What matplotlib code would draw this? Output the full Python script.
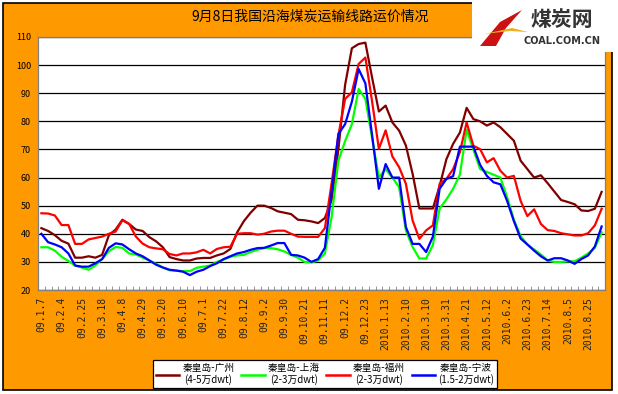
import numpy as np
import matplotlib.pyplot as plt
from matplotlib.patches import Rectangle, Polygon
from matplotlib.lines import Line2D

plt.rcParams['font.family'] = ['Noto Sans CJK SC', 'DejaVu Sans']

# 日期标签 (每三周一个)
dates = ['09.1.7', '09.2.4', '09.2.25', '09.3.18', '09.4.8', '09.4.29', '09.5.20',
         '09.6.10', '09.7.1', '09.7.22', '09.8.12', '09.9.2', '09.9.30', '09.10.21',
         '09.11.11', '09.12.2', '09.12.23', '2010.1.13', '2010.2.10', '2010.3.10',
         '2010.3.31', '2010.4.21', '2010.5.12', '2010.6.2', '2010.6.23', '2010.7.14',
         '2010.8.5', '2010.8.25']

# 秦皇岛-广州 (4-5万dwt)
guangzhou = [42, 41, 39.5, 37.5, 36.5, 31.5, 31.5, 32, 31.5, 32.5,
             39.5, 41.5, 45, 43.5, 41.5, 41, 38.8, 37.3, 35.2, 31.7,
             31, 30.5, 30.5, 31.2, 31.4, 31.4, 32.3, 33, 34.6, 40.5,
             44.5, 47.5, 50, 50, 49.2, 48, 47.5, 47, 45, 44.8,
             44.4, 43.8, 45.6, 52, 70, 93, 106, 107.5, 108, 95.5,
             83.5, 85.6, 79.6, 76.7, 71.4, 61.3, 49, 49, 49, 57,
             66.5, 72, 76, 84.8, 80.8, 80, 78.5, 79.6, 77.9, 75.5,
             73.1, 66, 63, 60, 60.8, 58, 55, 52, 51.3, 50.5,
             48.3, 48.1, 48.9, 54.9]

# 秦皇岛-上海 (2-3万dwt)
shanghai = [35.2, 35.2, 34, 31.8, 30.3, 28.7, 28, 27.2, 28.7, 31,
            33.8, 35.3, 35, 33, 32.6, 31.5, 30.5, 29.3, 28, 27,
            26.9, 26.7, 26.7, 27.9, 28.3, 28.7, 30, 30.8, 31.8, 32.3,
            32.5, 33.5, 34.3, 34.9, 34.9, 34.5, 33.7, 32.5, 31.5, 30,
            29.8, 30.5, 33, 46, 66, 73, 79, 91.5, 88, 74,
            60, 63, 60, 56.6, 41.2, 35.3, 31.2, 31.2, 36, 49,
            52.2, 56, 61, 77, 70, 63, 62, 61, 60, 53,
            45, 39.2, 36.2, 34.4, 32.6, 30.5, 30, 30, 30.2, 30.2,
            31.5, 33, 35, 40.5]

# 秦皇岛-福州 (2-3万dwt)
fuzhou = [47.3, 47.2, 46.5, 43.1, 43.1, 36.4, 36.4, 38, 38.5, 39,
          40, 40.8, 44.8, 43.5, 39, 36.5, 35.2, 34.8, 34.5, 32.8,
          32.3, 33, 33, 33.4, 34.3, 33, 34.6, 35.2, 35.4, 40,
          40.2, 40.2, 39.7, 40, 40.8, 41.1, 41.1, 40, 39, 38.9,
          38.9, 38.9, 42, 58, 75, 88, 90.3, 100.4, 102.7, 87,
          70.2, 76.8, 67.5, 63.7, 57.8, 44.7, 38.2, 41.2, 43, 57.8,
          59.5, 63, 69, 79.6, 71.3, 70.1, 65.4, 66.9, 62.4, 60,
          60.6, 51.7, 46.3, 48.7, 43.5, 41.3, 41, 40.2, 39.8, 39.4,
          39.4, 40.2, 43, 48.9]

# 秦皇岛-宁波 (1.5-2万dwt)
ningbo = [40, 37, 36.2, 35.2, 33, 28.7, 28.3, 28.3, 29.5, 31,
          35, 36.6, 36.2, 34.5, 33, 32, 30.5, 29, 28, 27.2,
          26.9, 26.5, 25.3, 26.5, 27.2, 28.5, 29.5, 31, 32, 33,
          33.5, 34.3, 34.9, 35, 35.8, 36.7, 36.7, 32.5, 32.3, 31.5,
          30, 31, 35, 55, 75.5, 79, 87, 98.6, 93.5, 75,
          56, 64.8, 60, 60, 42.4, 36.4, 36.4, 33.5, 39, 56,
          59.5, 60.5, 71, 71, 71, 64.5, 60.6, 58.3, 57.6, 51.7,
          44.5, 38.3, 36.2, 34, 32, 30.5, 31.3, 31.3, 30.5, 29.3,
          31, 32.3, 35.5, 42.6]

names = ['秦皇岛-广州\n(4-5万dwt)', '秦皇岛-上海\n(2-3万dwt)',
         '秦皇岛-福州\n(2-3万dwt)', '秦皇岛-宁波\n(1.5-2万dwt)']
colors = ['#800000', '#00FF00', '#FF0000', '#0000FF']

W, H = 618, 394


def fx(px):
    return px / W


def fy(py):
    return 1 - py / H


fig = plt.figure(figsize=(6.18, 3.94), dpi=100)
fig.patch.set_facecolor('white')

# fond orange avec cadre noir
fig.patches.append(Rectangle((fx(3), fy(390)), fx(612) - fx(3), fy(3) - fy(390),
                             transform=fig.transFigure, facecolor='#FF9900',
                             edgecolor='black', lw=1.2, zorder=-5))

ax = fig.add_axes([fx(38), fy(290), fx(605) - fx(38), fy(37) - fy(290)])
ax.set_zorder(2)
ax.set_facecolor('white')

x = np.arange(len(guangzhou))
for y, c in zip([guangzhou, shanghai, fuzhou, ningbo], colors):
    ax.plot(x, y, color=c, lw=1.6, zorder=3)

ax.set_xlim(-0.5, len(x) - 0.5)
ax.set_ylim(20, 110)
ax.set_yticks(range(20, 111, 10))
ax.grid(axis='y', color='black', lw=0.9, zorder=1)
ax.tick_params(axis='y', length=0, labelsize=6.5, pad=5)

ax.set_xticks(np.arange(0, len(x), 3))
ax.set_xticklabels(dates, rotation=90, family='DejaVu Sans Mono', fontsize=7,
                   color='#222222')
ax.tick_params(axis='x', which='major', length=0, pad=5)
ax.set_xticks(np.arange(-0.5, len(x), 1), minor=True)
ax.tick_params(axis='x', which='minor', direction='in', length=3, color='#888888')
for s in ax.spines.values():
    s.set_color('#808080')
    s.set_linewidth(0.9)

# titre
fig.text(fx(310), fy(17), '9月8日我国沿海煤炭运输线路运价情况', ha='center', va='center',
         fontsize=10)

# légende
handles = [Line2D([0], [0], color=c, lw=1.8) for c in colors]
leg = fig.legend(handles, names, ncol=4, loc='center', bbox_to_anchor=(fx(325), fy(374)),
                 fontsize=7, frameon=True, fancybox=False, edgecolor='black',
                 framealpha=1, handlelength=2.4, columnspacing=0.7, handletextpad=0.3,
                 borderpad=0.3, labelspacing=0.2)
leg.get_frame().set_linewidth(0.9)
leg.set_zorder(8)
for t in leg.get_texts():
    t.set_multialignment('center')

# logo
fig.patches.append(Rectangle((fx(472), fy(52)), fx(618) - fx(472), fy(0) - fy(52),
                             transform=fig.transFigure, facecolor='white',
                             edgecolor='none', zorder=5))
fig.patches.append(Polygon([(fx(480), fy(46)), (fx(500), fy(22)), (fx(522), fy(10)),
                            (fx(506), fy(28)), (fx(496), fy(46))],
                           transform=fig.transFigure, facecolor='#CC1111',
                           edgecolor='none', zorder=6))
fig.patches.append(Polygon([(fx(484), fy(34)), (fx(512), fy(28)), (fx(528), fy(32)),
                            (fx(510), fy(31))],
                           transform=fig.transFigure, facecolor='#E8B020',
                           edgecolor='none', zorder=6))
fig.text(fx(562), fy(20), '煤炭网', ha='center', va='center', fontsize=15,
         fontweight='bold', color='#333333', zorder=7)
fig.text(fx(562), fy(41), 'COAL.COM.CN', ha='center', va='center', fontsize=7,
         fontweight='bold', color='#333333', family='DejaVu Sans', zorder=7)

plt.savefig('out.png', dpi=100, facecolor=fig.get_facecolor())
